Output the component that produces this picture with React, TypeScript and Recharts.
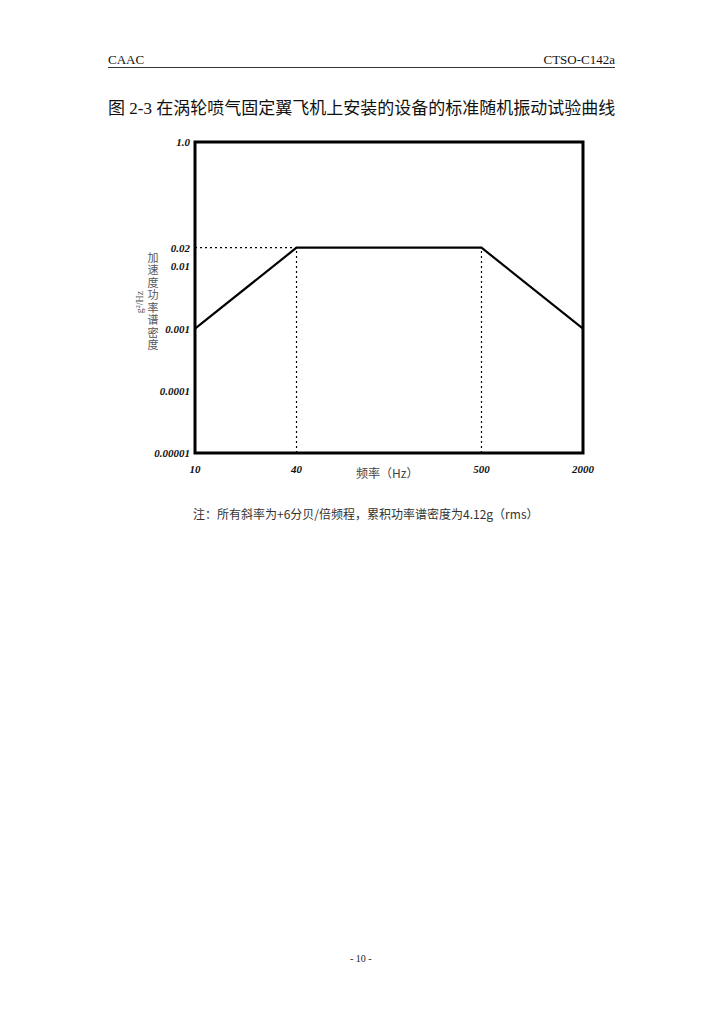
import React from 'react';
import {
  LineChart,
  Line,
  XAxis,
  YAxis,
  ReferenceLine,
  ReferenceArea,
} from 'recharts';

// 频率 (Hz) 与加速度功率谱密度 (g²/Hz)
const frequencies = [10, 40, 500, 2000];
const psdValues = [0.001, 0.02, 0.02, 0.001];

const xTickValues = [10, 40, 500, 2000];
const xTickLabels = ['10', '40', '500', '2000'];
const yTickValues = [0.00001, 0.0001, 0.001, 0.01, 0.02, 1];
const yTickLabels = ['0.00001', '0.0001', '0.001', '0.01', '0.02', '1.0'];

const yAxisName = '加速度功率谱密度';
const yAxisUnit = 'g²/Hz';

const SERIF = '"Liberation Serif", "DejaVu Serif", serif';
const CJK = '"Liberation Serif", "Noto Sans CJK SC", sans-serif';
const SANS_CJK = '"Noto Sans CJK SC", sans-serif';

const tickStyle = {
  fontFamily: SERIF,
  fontStyle: 'italic',
  fontWeight: 700,
  fontSize: 11,
  fill: '#111',
};

const data = frequencies.map((f, i) => ({ f, psd: psdValues[i] }));

export default function App() {
  return (
    <div
      style={{
        position: 'absolute',
        left: 0,
        top: 0,
        width: 724,
        height: 1024,
        background: '#fff',
        fontFamily: CJK,
      }}
    >
      {/* 页眉 */}
      <div style={{ position: 'absolute', left: 108, top: 52, fontFamily: SERIF, fontSize: 13, color: '#111' }}>
        CAAC
      </div>
      <div style={{ position: 'absolute', right: 109, top: 52, fontFamily: SERIF, fontSize: 13, color: '#111' }}>
        CTSO-C142a
      </div>
      <div style={{ position: 'absolute', left: 108, top: 67, width: 507, height: 1, background: '#333' }} />

      {/* 标题 */}
      <div style={{ position: 'absolute', left: 108, top: 94, fontSize: 17, color: '#111', whiteSpace: 'nowrap' }}>
        图 2-3 在涡轮喷气固定翼飞机上安装的设备的标准随机振动试验曲线
      </div>

      <div style={{ position: 'absolute', left: 130, top: 120 }}>
        <LineChart
          width={480}
          height={380}
          data={data}
          margin={{ top: 22, right: 27, left: 0, bottom: 0 }}
        >
          <XAxis
            dataKey="f"
            type="number"
            scale="log"
            domain={[10, 2000]}
            ticks={xTickValues}
            tickFormatter={(v: number) => xTickLabels[xTickValues.indexOf(v)] ?? String(v)}
            height={47}
            axisLine={false}
            tickLine={false}
            tickSize={0}
            tickMargin={12}
            tick={tickStyle}
            allowDataOverflow
            interval={0}
          />
          <YAxis
            type="number"
            scale="log"
            domain={[0.00001, 1]}
            ticks={yTickValues}
            tickFormatter={(v: number) => yTickLabels[yTickValues.indexOf(v)] ?? String(v)}
            width={65}
            axisLine={false}
            tickLine={false}
            tickSize={0}
            tickMargin={5}
            tick={tickStyle}
            allowDataOverflow
            interval={0}
          />
          <ReferenceArea
            x1={10}
            x2={2000}
            y1={0.00001}
            y2={1}
            fill="#fff"
            fillOpacity={0}
            stroke="#000"
            strokeWidth={3}
          />
          <ReferenceLine
            segment={[{ x: 10, y: 0.02 }, { x: 40, y: 0.02 }]}
            stroke="#000"
            strokeWidth={1.2}
            strokeDasharray="2 3"
          />
          <ReferenceLine
            segment={[{ x: 40, y: 0.00001 }, { x: 40, y: 0.02 }]}
            stroke="#000"
            strokeWidth={1.2}
            strokeDasharray="2 3"
          />
          <ReferenceLine
            segment={[{ x: 500, y: 0.00001 }, { x: 500, y: 0.02 }]}
            stroke="#000"
            strokeWidth={1.2}
            strokeDasharray="2 3"
          />
          <Line
            type="linear"
            dataKey="psd"
            stroke="#000"
            strokeWidth={2.2}
            dot={false}
            activeDot={false}
            isAnimationActive={false}
          />
        </LineChart>
      </div>

      {/* 纵轴名称 */}
      <div
        style={{
          position: 'absolute',
          left: 147,
          top: 252,
          writingMode: 'vertical-rl',
          textOrientation: 'upright',
          fontFamily: SANS_CJK,
          fontSize: 11,
          lineHeight: '12px',
          letterSpacing: 1.5,
          color: '#555',
        }}
      >
        {yAxisName}
      </div>
      <div
        style={{
          position: 'absolute',
          left: 126,
          top: 296,
          width: 28,
          height: 12,
          textAlign: 'center',
          transform: 'rotate(-90deg)',
          fontFamily: SERIF,
          fontSize: 10,
          lineHeight: '12px',
          color: '#555',
          whiteSpace: 'nowrap',
        }}
      >
        {yAxisUnit}
      </div>

      {/* 横轴名称 */}
      <div style={{ position: 'absolute', left: 356, top: 464, fontFamily: SANS_CJK, fontSize: 12, color: '#444' }}>
        频率（Hz）
      </div>

      {/* 注 */}
      <div style={{ position: 'absolute', left: 193, top: 505, fontFamily: SANS_CJK, fontSize: 12, color: '#333', whiteSpace: 'nowrap' }}>
        注：所有斜率为+6分贝/倍频程，累积功率谱密度为4.12g（rms）
      </div>

      {/* 页码 */}
      <div style={{ position: 'absolute', left: 350, top: 953, fontFamily: SERIF, fontSize: 10, color: '#222' }}>
        - 10 -
      </div>
    </div>
  );
}
